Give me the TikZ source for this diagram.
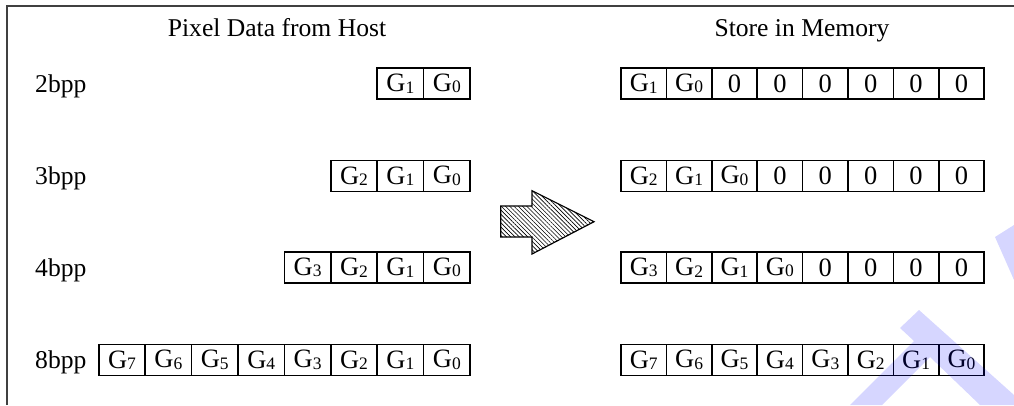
\documentclass[tikz,border=0pt]{standalone}
\usepackage{fontspec}
\setmainfont{Liberation Serif}
\usetikzlibrary{patterns.meta,positioning}

\newcommand{\gsub}[1]{G\raisebox{-1.5pt}{\fontsize{17.5}{18}\selectfont #1}}

\begin{document}
\begin{tikzpicture}
    [
      x=1pt, y=-1pt,
      txt/.style={font=\fontsize{25.6}{30}\selectfont},
      cell/.style={font=\fontsize{26.5}{30}\selectfont, draw, line width=1.5pt, minimum width=46.4pt, minimum height=31pt, inner sep=0pt},
      memcell/.style={cell, minimum width=45.4pt},
      bpp/.style={txt, anchor=base west, inner sep=0pt},
      heading/.style={txt, anchor=base, inner sep=0pt},
      hatched/.style={draw, line width=1.2pt, line join=miter, pattern={Lines[angle=-45,distance=3pt,line width=0.65pt]}},
      stamp/.style={fill=blue, opacity=0.16, draw=none}
    ]

    \useasboundingbox (0,0) rectangle (1014,405);
    \draw [line width=2pt, black!75] (7,405) -- (7,6) -- (1014,6);

    \node (host) [heading] at (277,36) {Pixel Data from Host};
    \node (mem) [heading] at (802,36) {Store in Memory};

    \node (l2) [bpp] at (35,92) {2bpp};
    \node (l3) [bpp] at (35,184.5) {3bpp};
    \node (l4) [bpp] at (35,276) {4bpp};
    \node (l8) [bpp] at (35,368.5) {8bpp};

    % host side
    \node (h2g1) [cell] at (400.4,83.5) {\gsub{1}};
    \node (h2g0) [cell] at (446.8,83.5) {\gsub{0}};

    \node (h3g2) [cell] at (354.0,176) {\gsub{2}};
    \node (h3g1) [cell] at (400.4,176) {\gsub{1}};
    \node (h3g0) [cell] at (446.8,176) {\gsub{0}};

    \node (h4g3) [cell] at (307.6,267.5) {\gsub{3}};
    \node (h4g2) [cell] at (354.0,267.5) {\gsub{2}};
    \node (h4g1) [cell] at (400.4,267.5) {\gsub{1}};
    \node (h4g0) [cell] at (446.8,267.5) {\gsub{0}};

    \node (h8g7) [cell] at (122.0,360) {\gsub{7}};
    \node (h8g6) [cell] at (168.4,360) {\gsub{6}};
    \node (h8g5) [cell] at (214.8,360) {\gsub{5}};
    \node (h8g4) [cell] at (261.2,360) {\gsub{4}};
    \node (h8g3) [cell] at (307.6,360) {\gsub{3}};
    \node (h8g2) [cell] at (354.0,360) {\gsub{2}};
    \node (h8g1) [cell] at (400.4,360) {\gsub{1}};
    \node (h8g0) [cell] at (446.8,360) {\gsub{0}};

    % memory side
    \node (m2a) [memcell] at (643.7,83.5) {\gsub{1}};
    \node (m2b) [memcell] at (689.1,83.5) {\gsub{0}};
    \node (m2c) [memcell] at (734.5,83.5) {0};
    \node (m2d) [memcell] at (779.9,83.5) {0};
    \node (m2e) [memcell] at (825.3,83.5) {0};
    \node (m2f) [memcell] at (870.7,83.5) {0};
    \node (m2g) [memcell] at (916.1,83.5) {0};
    \node (m2h) [memcell] at (961.5,83.5) {0};

    \node (m3a) [memcell] at (643.7,176) {\gsub{2}};
    \node (m3b) [memcell] at (689.1,176) {\gsub{1}};
    \node (m3c) [memcell] at (734.5,176) {\gsub{0}};
    \node (m3d) [memcell] at (779.9,176) {0};
    \node (m3e) [memcell] at (825.3,176) {0};
    \node (m3f) [memcell] at (870.7,176) {0};
    \node (m3g) [memcell] at (916.1,176) {0};
    \node (m3h) [memcell] at (961.5,176) {0};

    \node (m4a) [memcell] at (643.7,267.5) {\gsub{3}};
    \node (m4b) [memcell] at (689.1,267.5) {\gsub{2}};
    \node (m4c) [memcell] at (734.5,267.5) {\gsub{1}};
    \node (m4d) [memcell] at (779.9,267.5) {\gsub{0}};
    \node (m4e) [memcell] at (825.3,267.5) {0};
    \node (m4f) [memcell] at (870.7,267.5) {0};
    \node (m4g) [memcell] at (916.1,267.5) {0};
    \node (m4h) [memcell] at (961.5,267.5) {0};

    \node (m8a) [memcell] at (643.7,360) {\gsub{7}};
    \node (m8b) [memcell] at (689.1,360) {\gsub{6}};
    \node (m8c) [memcell] at (734.5,360) {\gsub{5}};
    \node (m8d) [memcell] at (779.9,360) {\gsub{4}};
    \node (m8e) [memcell] at (825.3,360) {\gsub{3}};
    \node (m8f) [memcell] at (870.7,360) {\gsub{2}};
    \node (m8g) [memcell] at (916.1,360) {\gsub{1}};
    \node (m8h) [memcell] at (961.5,360) {\gsub{0}};

    % hatched block arrow
    \draw [hatched] (500.7,206) -- (532,206) -- (532,190.7) -- (594,221.7)
      -- (532,254) -- (532,237) -- (500.7,237) -- cycle;

    % watermark strokes
    \fill [stamp] (850,405) -- (914,341) -- (900,328) -- (919,310) -- (1014,395)
      -- (1014,405) -- (980,405) -- (930,357) -- (882,405) -- cycle;
    \fill [stamp] (995,237) -- (1014,225) -- (1014,280) -- cycle;

  \end{tikzpicture}
\end{document}
